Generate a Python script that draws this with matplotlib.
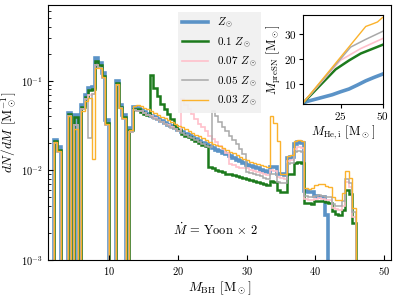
import numpy as np
import matplotlib
matplotlib.use('Agg')
import matplotlib.pyplot as plt

plt.rcParams['font.family'] = 'serif'
plt.rcParams['font.serif'] = ['cmr10']
plt.rcParams['mathtext.fontset'] = 'cm'
plt.rcParams['axes.formatter.use_mathtext'] = True
plt.rcParams['axes.unicode_minus'] = False

# bin edges of the BH mass histogram (0.5 Msun wide)
bin_width = 0.5
bin_start = 1.9
n_bins = 88
edges = bin_start + bin_width * np.arange(n_bins + 1)

# dN/dM per bin
dndm_sun = [0.022, 0.018, 0, 0, 0.044, 0, 0.041, 0, 0.054, 0.070,
            0.083, 0.085, 0.177, 0.157, 0.121, 0.036, 0, 0, 0.099, 0.054,
            0.041, 0, 0.030, 0.0506, 0.0500, 0.0468, 0.0447, 0.0427, 0.0407, 0.0389,
            0.0372, 0.0355, 0.0339, 0.0324, 0.0309, 0.0295, 0.0282, 0.0269, 0.0257, 0.0245,
            0.0234, 0.0224, 0.0214, 0.0204, 0.0195, 0.0186, 0.0178, 0.0170, 0.0166, 0.0158,
            0.0151, 0.0145, 0.0138, 0.0132, 0.0126, 0.0120, 0.0115, 0.0112, 0.0108, 0.0105,
            0.0102, 0.0099, 0.0097, 0.0110, 0.0108, 0.0092, 0.0090, 0.0089, 0.0139, 0.0142,
            0.0196, 0.0205, 0.0200, 0.0059, 0.0058, 0.0058, 0.0052, 0.0051, 0.0050, 0.0032,
            0, 0, 0, 0, 0, 0, 0, 0]

dndm_01 = [0.021, 0.017, 0, 0, 0.042, 0, 0.039, 0, 0.051, 0.066,
           0.078, 0.080, 0.168, 0.150, 0.114, 0.034, 0, 0, 0.094, 0.051,
           0.039, 0, 0.028, 0.048, 0.048, 0.045, 0.043, 0.041, 0.117, 0.083,
           0.067, 0.055, 0.0485, 0.0426, 0.0375, 0.0314, 0.0285, 0.0256, 0.0244, 0.0233,
           0.0222, 0.0213, 0.0203, 0.0194, 0.0185, 0.0108, 0.0105, 0.0102, 0.0098, 0.0095,
           0.0092, 0.0090, 0.0088, 0.0086, 0.0084, 0.0082, 0.0081, 0.0079, 0.0077, 0.0075,
           0.0073, 0.0071, 0.0069, 0.0077, 0.0075, 0.0060, 0.0058, 0.0057, 0.0090, 0.0092,
           0.0122, 0.0125, 0.0120, 0.0043, 0.0043, 0.0042, 0.0045, 0.0046, 0.0045, 0.0044,
           0.0043, 0.0035, 0.0033, 0.0032, 0.0036, 0.0060, 0.0055, 0.0026]

dndm_007 = [0.020, 0.016, 0, 0, 0.040, 0, 0.032, 0, 0.048, 0.062,
            0.070, 0.072, 0.150, 0.140, 0.108, 0.032, 0, 0, 0.090, 0.049,
            0.037, 0, 0.027, 0.047, 0.046, 0.0459, 0.0438, 0.0418, 0.0399, 0.0381,
            0.0365, 0.0348, 0.0332, 0.0318, 0.0303, 0.0289, 0.0276, 0.0628, 0.0537, 0.0484,
            0.0426, 0.0374, 0.0329, 0.0302, 0.0277, 0.0243, 0.0224, 0.0205, 0.0188, 0.0172,
            0.0158, 0.0118, 0.0114, 0.0110, 0.0107, 0.0105, 0.0105, 0.0102, 0.0098, 0.0096,
            0.0093, 0.0090, 0.0088, 0.0100, 0.0098, 0.0084, 0.0082, 0.0081, 0.0127, 0.0130,
            0.0175, 0.0180, 0.0176, 0.0048, 0.0047, 0.0047, 0.0048, 0.0049, 0.0048, 0.0047,
            0.0047, 0.0038, 0.0037, 0.0036, 0.0040, 0.0075, 0.0065, 0.0030]

dndm_005 = [0.020, 0.016, 0, 0, 0.040, 0, 0.032, 0, 0.048, 0.063,
            0.023, 0.072, 0.150, 0.140, 0.108, 0.032, 0, 0, 0.090, 0.049,
            0.037, 0, 0.027, 0.047, 0.046, 0.0454, 0.0434, 0.0414, 0.0395, 0.0377,
            0.0361, 0.0344, 0.0329, 0.0314, 0.0300, 0.0286, 0.0274, 0.0261, 0.0249, 0.0238,
            0.0227, 0.0217, 0.0208, 0.0198, 0.0189, 0.0180, 0.0464, 0.0407, 0.0344, 0.0302,
            0.0277, 0.0243, 0.0219, 0.0196, 0.0172, 0.0151, 0.0097, 0.0094, 0.0091, 0.0088,
            0.0086, 0.0083, 0.0081, 0.0092, 0.0090, 0.0075, 0.0073, 0.0072, 0.0117, 0.0120,
            0.0160, 0.0165, 0.0162, 0.0052, 0.0051, 0.0051, 0.0052, 0.0053, 0.0052, 0.0051,
            0.0051, 0.0042, 0.0040, 0.0040, 0.0045, 0.0080, 0.0072, 0.0034]

dndm_003 = [0.0205, 0.0165, 0, 0, 0.040, 0, 0.029, 0, 0.046, 0.060,
            0.064, 0.0133, 0.137, 0.140, 0.110, 0.033, 0, 0, 0.092, 0.050,
            0.038, 0, 0.028, 0.052, 0.053, 0.0524, 0.0501, 0.0478, 0.0456, 0.0436,
            0.0417, 0.0398, 0.0380, 0.0363, 0.0346, 0.0330, 0.0316, 0.0301, 0.0288, 0.0274,
            0.0262, 0.0251, 0.0240, 0.0228, 0.0218, 0.0208, 0.0199, 0.0190, 0.0186, 0.0177,
            0.0169, 0.0162, 0.0155, 0.0148, 0.0141, 0.0134, 0.0129, 0.0125, 0.0121, 0.0118,
            0.0114, 0.0111, 0.0108, 0.040, 0.034, 0.021, 0.0092, 0.0091, 0.0146, 0.0150,
            0.0210, 0.0218, 0.0212, 0.0063, 0.0062, 0.0063, 0.0068, 0.0070, 0.0070, 0.0067,
            0.0066, 0.0050, 0.0047, 0.0047, 0.0056, 0.0098, 0.0082, 0.0038]

# inset: pre-SN mass vs initial He core mass
mhe_sun = [2.5, 5, 10, 15, 20, 25, 30, 35, 40, 45, 50]
mpre_sun = [2.3, 3.0, 3.9, 4.8, 5.7, 6.9, 8.0, 9.6, 11.3, 12.7, 14.0]
mhe_01 = [2.5, 22, 30, 37, 50]
mpre_01 = [2.3, 15.9, 19.5, 22.3, 25.8]
mhe_007 = [2.5, 25, 37, 50]
mpre_007 = [2.3, 19.6, 24.3, 28.3]
mhe_005 = [2.5, 31, 40, 50]
mpre_005 = [2.3, 24.9, 28.0, 31.2]
mhe_003 = [2.5, 40, 44, 47, 50]
mpre_003 = [2.3, 33.2, 34.2, 35.0, 36.8]

labels = [r'$Z_\odot$', r'0.1 $Z_\odot$', r'0.07 $Z_\odot$', r'0.05 $Z_\odot$', r'0.03 $Z_\odot$']
colors = ['#5b93c7', '#1c7a1c', 'pink', 'darkgray', '#fbb22c']
widths = [2.6, 1.8, 1.2, 1.1, 1.0]

hists = [dndm_sun, dndm_01, dndm_007, dndm_005, dndm_003]
curves = [(mhe_sun, mpre_sun), (mhe_01, mpre_01), (mhe_007, mpre_007),
          (mhe_005, mpre_005), (mhe_003, mpre_003)]

fig = plt.figure(figsize=(3.99, 2.99), dpi=100)
ax = fig.add_axes([0.1195, 0.1304, 0.8595, 0.853])

floor = 1e-6  # empty bins drawn down past the axis
for vals, c, lw, lab in zip(hists, colors, widths, labels):
    v = np.array(vals, dtype=float)
    v = np.where(v > 0, v, floor)
    ax.stairs(v, edges, baseline=floor, color=c, lw=lw, label=lab)

ax.set_yscale('log')
ax.set_xlim(1, 51)
ax.set_ylim(1e-3, 0.7)
ax.set_xticks([10, 20, 30, 40, 50])
ax.tick_params(which='both', direction='in', labelsize=7.5)
ax.set_xlabel(r'$M_{\rm BH}$ [M$_\odot$]', fontsize=9.5, labelpad=2)
ax.set_ylabel(r'$dN/dM$ [M$_\odot^{-1}$]', fontsize=9.5)
ax.yaxis.set_label_coords(-0.084, 0.5)

ax.text(0.49, 0.118, r'$\dot{M}$ = Yoon $\times$ 2', transform=ax.transAxes,
        ha='center', va='center', fontsize=9)

leg = ax.legend(loc='upper left', bbox_to_anchor=(0.379, 0.974), borderaxespad=0,
                fontsize=8, handlelength=2.3, labelspacing=0.45, fancybox=False,
                facecolor='#f0f0f0', edgecolor='none', framealpha=0.9)

# inset
axi = fig.add_axes([0.759, 0.652, 0.1997, 0.2977])
for (xs, ys), c, lw in zip(curves, colors, widths):
    axi.plot(xs, ys, color=c, lw=lw)
axi.set_xlim(2.5, 50)
axi.set_ylim(1.95, 37.8)
axi.set_xticks([25, 50])
axi.set_yticks([10, 20, 30])
axi.tick_params(labelsize=8, length=3, pad=1.5)
axi.set_xlabel(r'$M_{\rm He,i}$ [M$_\odot$]', fontsize=9, labelpad=1)
axi.set_ylabel(r'$M_{\rm preSN}$ [M$_\odot$]', fontsize=9, labelpad=1)

plt.savefig('out.png', dpi=100)
